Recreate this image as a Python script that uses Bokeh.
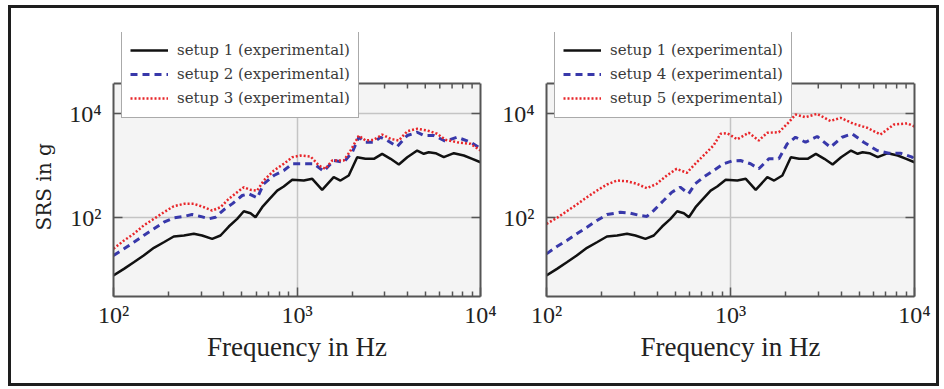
import math
from bokeh.plotting import figure
from bokeh.models import (Range1d, FixedTicker, LogAxis, Legend, LegendItem,
                          BoxAnnotation, Span, Title)
from bokeh.layouts import row
from bokeh.embed import file_html
from bokeh.resources import INLINE

# ---------------- data ----------------
f_s1 = [100, 114, 129, 146, 166, 188, 213, 242, 274, 304, 345, 383, 425, 472, 513, 558, 594, 646,
        701, 780, 847, 942, 1089, 1211, 1371, 1585, 1726, 1914, 2128, 2360, 2624, 2911, 3236, 3589,
        3990, 4519, 4909, 5224, 5689, 6310, 7161, 8110, 9016, 10000]
v_s1 = [7.7, 10.3, 13.8, 18.6, 26.1, 33.5, 43.2, 45.1, 48.6, 45.1, 38.9, 45.1, 67.1, 94.4, 132, 121,
        101, 158, 219, 330, 394, 531, 515, 555, 341, 596, 515, 643, 1445, 1346, 1346, 1679, 1346,
        1045, 1445, 1941, 1679, 1803, 1726, 1445, 1726, 1556, 1346, 1156]

f_s2 = [100, 114, 129, 146, 166, 188, 213, 242, 268, 298, 331, 359, 399, 443, 503, 546, 607, 659,
        748, 847, 942, 1089, 1236, 1400, 1585, 1799, 2000, 2173, 2361, 2624, 2853, 3102, 3515, 3990,
        4519, 4909, 5568, 6442, 7464, 8823, 10000]
v_s2 = [18.6, 25.0, 33.5, 45.1, 60.7, 81.3, 98.7, 105, 114, 105, 94.4, 101, 141, 183, 265, 286, 239,
        445, 643, 801, 1079, 1079, 1079, 777, 1248, 1157, 1803, 3499, 2805, 2805, 3499, 3027, 2317,
        3776, 4365, 3776, 3776, 2931, 3499, 2805, 2123]

f_s3 = [100, 114, 129, 146, 166, 188, 213, 242, 274, 311, 345, 383, 425, 472, 513, 558, 607, 659,
        748, 847, 942, 1045, 1186, 1316, 1429, 1555, 1799, 1958, 2173, 2361, 2624, 2911, 3236, 3589,
        3990, 4519, 5129, 5808, 6442, 7464, 8823, 10000]
v_s3 = [25.0, 36.1, 48.6, 70.2, 94.4, 126, 165, 183, 183, 158, 136, 158, 229, 307, 383, 341, 330,
        515, 801, 1079, 1445, 1556, 1489, 1000, 865, 1248, 1248, 1941, 3776, 3027, 3119, 3945, 3258,
        3027, 4571, 5082, 4710, 4074, 3119, 2805, 2612, 1941]

f_s4 = [100, 114, 129, 146, 166, 188, 213, 252, 285, 323, 351, 382, 433, 480, 533, 592, 643, 713,
        809, 916, 1016, 1133, 1285, 1425, 1615, 1832, 2034, 2255, 2558, 2958, 3493, 4043, 4583,
        5297, 6266, 7244, 8390, 9720, 10000]
v_s4 = [20.0, 27.7, 36.1, 48.6, 65.1, 87.5, 114, 126, 121, 109, 105, 136, 212, 307, 383, 286, 445,
        596, 801, 1079, 1222, 1248, 1079, 865, 1346, 1346, 2612, 3499, 2805, 3613, 2249, 3499, 4074,
        2805, 1941, 1726, 1726, 1445, 1288]

f_s5 = [100, 114, 129, 146, 166, 188, 213, 241, 273, 310, 351, 397, 451, 510, 579, 643, 713, 809,
        883, 960, 1087, 1257, 1425, 1581, 1832, 2075, 2255, 2558, 2958, 3493, 3963, 4677, 5534,
        6531, 7725, 9125, 10000]
v_s5 = [75.7, 98.6, 132, 178, 246, 330, 431, 515, 499, 445, 366, 445, 643, 865, 724, 1079, 1556,
        2427, 4074, 4178, 3192, 4256, 3027, 4256, 4365, 6808, 9572, 8492, 9863, 7178, 8260, 6339,
        5309, 3945, 6138, 6453, 5623]

labels_left = ["setup 1 (experimental)", "setup 2 (experimental)", "setup 3 (experimental)"]
labels_right = ["setup 1 (experimental)", "setup 4 (experimental)", "setup 5 (experimental)"]

x_major = [100, 1000, 10000]
x_minor = [m * 10 ** k for k in (2, 3) for m in range(2, 10)]
y_major = [100, 10000]
tick_text = {100: "10²", 1000: "10³", 10000: "10⁴"}

# axis limits (visible box) -- the real frame reaches higher so the legend can overlap the top
X_LO, X_HI = 100, 10000
Y_LO, Y_VIS_HI = 3.03, 37760
FRAME_H_VIS = 213          # px of the visible box
FRAME_EXTRA = 51           # px of extra frame above the visible box (legend area)
Y_REAL_HI = 10 ** (math.log10(Y_VIS_HI) +
                   FRAME_EXTRA * (math.log10(Y_VIS_HI) - math.log10(Y_LO)) / FRAME_H_VIS)

SERIF = "Liberation Serif"
LEG_FONT = "DejaVu Serif"
FRAME_COLOR = "#555555"


def style_axis(ax, show_labels, standoff=12):
    ax.axis_line_color = FRAME_COLOR
    ax.axis_line_width = 2
    ax.major_tick_in = 9
    ax.major_tick_out = 0
    ax.minor_tick_in = 5
    ax.minor_tick_out = 0
    ax.major_tick_line_color = FRAME_COLOR
    ax.minor_tick_line_color = FRAME_COLOR
    ax.major_tick_line_width = 1.5
    ax.minor_tick_line_width = 1.5
    if show_labels:
        ax.major_label_overrides = dict(tick_text)
        ax.major_label_text_font = SERIF
        ax.major_label_text_font_size = "24px"
        ax.major_label_text_color = "#222222"
        ax.major_label_standoff = standoff
    else:
        ax.major_label_overrides = {k: "" for k in tick_text}
        ax.major_label_text_font_size = "0px"
        ax.major_label_standoff = 0


def make_panel(width, border_left, border_right, series, labels, ylabel):
    p = figure(width=width, height=375, x_axis_type="log", y_axis_type="log",
               x_range=Range1d(X_LO, X_HI), y_range=Range1d(Y_LO, Y_REAL_HI),
               output_backend="svg", toolbar_location=None,
               min_border_left=border_left, min_border_right=border_right,
               min_border_top=24, min_border_bottom=87,
               background_fill_color="white", border_fill_color="white",
               outline_line_color=None)
    xt = FixedTicker(ticks=x_major, minor_ticks=x_minor)
    yt = FixedTicker(ticks=y_major, minor_ticks=[])
    bx = p.below[0]
    ly = p.left[0]
    bx.ticker = xt
    ly.ticker = yt
    style_axis(bx, True, standoff=5)
    style_axis(ly, True, standoff=12)
    ly.bounds = (Y_LO, Y_VIS_HI)
    bx.axis_label = "Frequency in Hz"
    bx.axis_label_text_font = SERIF
    bx.axis_label_text_font_size = "27px"
    bx.axis_label_text_font_style = "normal"
    bx.axis_label_text_color = "#222222"
    bx.axis_label_standoff = 1
    if ylabel:
        p.add_layout(Title(text=ylabel, align="left", offset=66, standoff=22,
                           text_font=LEG_FONT, text_font_size="20px", text_font_style="normal",
                           text_color="#222222"), "left")
    rt = LogAxis(ticker=yt, bounds=(Y_LO, Y_VIS_HI))
    style_axis(rt, False)
    p.add_layout(rt, "right")

    # visible plot box: grey fill + top edge
    p.add_layout(BoxAnnotation(top=Y_VIS_HI, fill_color="#f4f4f4", fill_alpha=1.0,
                               line_color=None, level="image"))
    p.add_layout(Span(location=Y_VIS_HI, dimension="width", line_color=FRAME_COLOR,
                      line_width=2))

    p.xgrid.ticker = FixedTicker(ticks=[t for t in x_major if X_LO < t < X_HI])
    p.ygrid.ticker = yt
    p.xgrid.grid_line_color = "#c4c4c4"
    p.ygrid.grid_line_color = "#c4c4c4"
    p.xgrid.grid_line_width = 1.5
    p.ygrid.grid_line_width = 1.5

    # ticks along the top edge of the visible box (pointing inward)
    top_major = [t for t in x_major if X_LO < t < X_HI]
    p.ray(x=top_major, y=[Y_VIS_HI] * len(top_major), length=9, length_units="screen",
          angle=-math.pi / 2, line_color=FRAME_COLOR, line_width=1.5)
    p.ray(x=x_minor, y=[Y_VIS_HI] * len(x_minor), length=5, length_units="screen",
          angle=-math.pi / 2, line_color=FRAME_COLOR, line_width=1.5)

    styles = [dict(line_color="#111111", line_width=2.5),
              dict(line_color="#3838aa", line_width=3, line_dash="7 5"),
              dict(line_color="#e8262a", line_width=2.5, line_dash="2 2")]
    items = []
    for (fx, vy), st, lab in zip(series, styles, labels):
        r = p.line(fx, vy, **st)
        items.append(LegendItem(label=lab, renderers=[r]))
    leg = Legend(items=items, location=(8, 178), orientation="vertical",
                 label_text_font=LEG_FONT, label_text_font_size="15px",
                 label_text_color="#3a3a3a",
                 glyph_width=38, glyph_height=22, label_height=22,
                 label_standoff=9, spacing=2, padding=8, margin=0,
                 border_line_color=FRAME_COLOR, border_line_width=1.5,
                 background_fill_color="white", background_fill_alpha=1.0)
    p.add_layout(leg)
    return p


p1 = make_panel(486, 102, 17, [(f_s1, v_s1), (f_s2, v_s2), (f_s3, v_s3)], labels_left, "SRS in g")
p2 = make_panel(439, 49, 22, [(f_s1, v_s1), (f_s4, v_s4), (f_s5, v_s5)], labels_right, None)

layout = row(p1, p2, margin=(5, 0, 0, 8), styles={"border": "3px solid #1e1e1e"})

open("out.html", "w").write(file_html(layout, INLINE))
